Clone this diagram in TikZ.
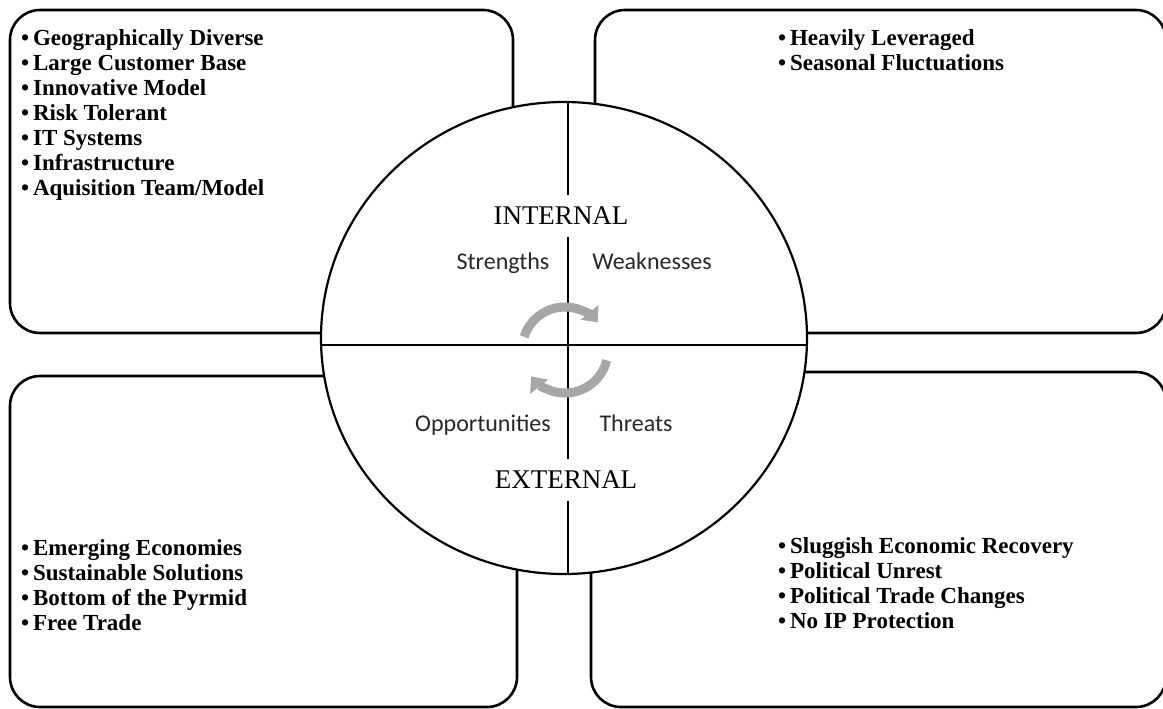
\documentclass[tikz,border=0pt]{standalone}
\usepackage{fontspec}
\setmainfont{Liberation Serif}
\newfontfamily\calib{Carlito}
\usetikzlibrary{arrows.meta}
\definecolor{arrowgray}{RGB}{166,166,166}
\definecolor{sidetext}{RGB}{40,40,40}
\begin{document}
\begin{tikzpicture}[x=1pt,y=1pt,
  quad/.style={draw=black, line width=2.6pt, rounded corners=30pt},
  divider/.style={draw=black, line width=2pt},
  listtext/.style={anchor=north west, inner sep=0pt, align=left, font=\bfseries\fontsize{23}{25}\selectfont},
  sidelabel/.style={anchor=base, inner sep=0pt, font=\calib\fontsize{24}{26}\selectfont, text=sidetext},
  halflabel/.style={fill=white, inner xsep=3pt, inner ysep=12pt, font=\fontsize{27}{30}\selectfont},
  cyc/.style={draw=arrowgray, line width=9pt, -{Triangle[width=22pt,length=13pt]}}
]
\useasboundingbox (0,0) rectangle (1163,-709);
% quadrant boxes
\draw[quad] (10,-10) rectangle (513,-333);
\draw[quad] (595,-10) rectangle (1166,-333);
\draw[quad] (10,-376) rectangle (517,-707);
\draw[quad] (591,-372) rectangle (1166,-707);
% central circle
\draw[line width=2.2pt, fill=white] (564,-338) ellipse [x radius=243, y radius=236];
\draw[divider] (321,-345) -- (807,-345);
\draw[divider] (568,-102) -- (568,-574);
% half labels
\node (internal) [halflabel] at (561,-216) {INTERNAL};
\node (external) [halflabel] at (566,-480) {EXTERNAL};
% cycle arrows
\draw[cyc] (565,-350) ++(162:43) arc[start angle=162, end angle=40, radius=43];
\draw[cyc] (565,-350) ++(-14:43) arc[start angle=-14, end angle=-142, radius=43];
% side labels
\node (str) [sidelabel] at (503,-269) {Strengths};
\node (wea) [sidelabel] at (652,-269) {Weaknesses};
\node (opp) [sidelabel] at (483,-431) {Opportunities};
\node (thr) [sidelabel] at (636,-431) {Threats};
% lists
\node (slist) [listtext] at (21,-29) {•\,Geographically Diverse\\•\,Large Customer Base\\•\,Innovative Model\\•\,Risk Tolerant\\•\,IT Systems\\•\,Infrastructure\\•\,Aquisition Team/Model};
\node (wlist) [listtext] at (778,-29) {•\,Heavily Leveraged\\•\,Seasonal Fluctuations};
\node (olist) [listtext] at (21,-539) {•\,Emerging Economies\\•\,Sustainable Solutions\\•\,Bottom of the Pyrmid\\•\,Free Trade};
\node (tlist) [listtext] at (778,-537) {•\,Sluggish Economic Recovery\\•\,Political Unrest\\•\,Political Trade Changes\\•\,No IP Protection};
\end{tikzpicture}
\end{document}
